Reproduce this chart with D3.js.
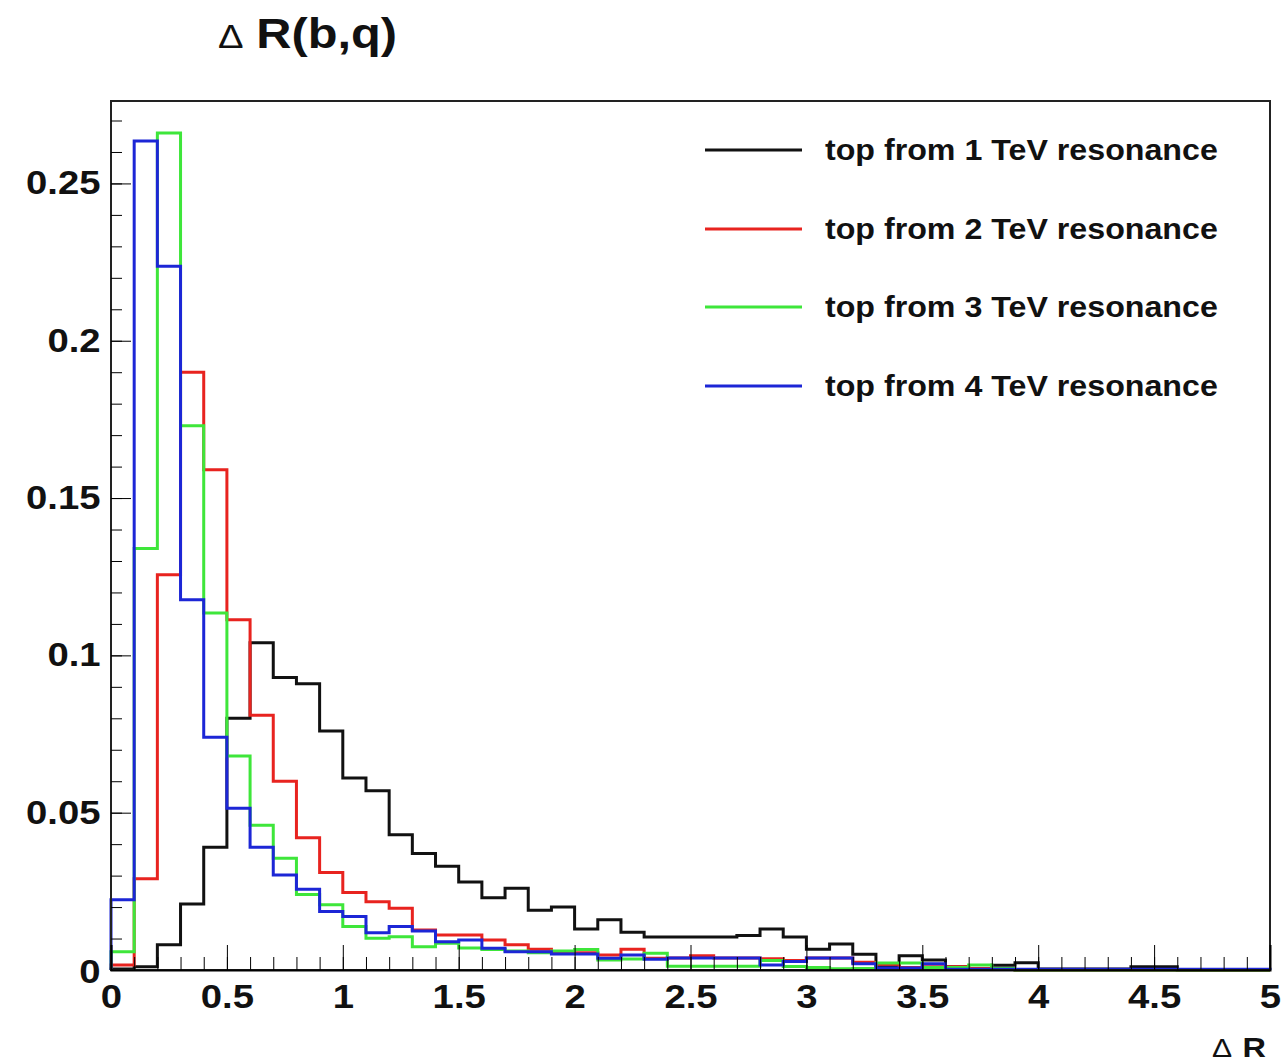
<!DOCTYPE html>
<html>
<head>
<meta charset="utf-8">
<script src="https://cdn.jsdelivr.net/npm/d3@7"></script>
<style>
  body { margin: 0; background: #fff; }
  svg { display: block; }
  text { font-family: "Liberation Sans", Arial, Helvetica, sans-serif; }
</style>
</head>
<body>
<div id="chart"></div>
<script>
// histogram binning: 50 bins of 0.1 in Delta R
var binLow = 0, binHigh = 5, nBins = 50;

var series = ["top from 1 TeV resonance", "top from 2 TeV resonance",
              "top from 3 TeV resonance", "top from 4 TeV resonance"];

var h1TeV = [0.0003, 0.001, 0.008, 0.021, 0.039, 0.080, 0.104, 0.093, 0.091, 0.076,
             0.061, 0.057, 0.043, 0.037, 0.033, 0.028, 0.023, 0.026, 0.019, 0.020,
             0.013, 0.016, 0.012, 0.0105, 0.0105, 0.0105, 0.0105, 0.011, 0.013, 0.0105,
             0.0066, 0.0083, 0.0050, 0.001, 0.0045, 0.0032, 0.001, 0.0005, 0.0015, 0.0023,
             0.0003, 0.0003, 0.0003, 0.0003, 0.001, 0.001, 0, 0, 0, 0];

var h2TeV = [0.0016, 0.029, 0.1256, 0.190, 0.159, 0.1113, 0.081, 0.060, 0.042, 0.031,
             0.0246, 0.0217, 0.0196, 0.0127, 0.0111, 0.0111, 0.0095, 0.008, 0.0066, 0.0055,
             0.0055, 0.0048, 0.0066, 0.0037, 0.0038, 0.0045, 0.0038, 0.0038, 0.0036, 0.003,
             0.0038, 0.0038, 0.0025, 0.0018, 0.0008, 0.001, 0.001, 0.0005, 0.0003, 0,
             0, 0, 0, 0, 0, 0, 0, 0, 0, 0];

var h3TeV = [0.0058, 0.134, 0.266, 0.173, 0.1135, 0.068, 0.046, 0.0355, 0.024, 0.0207,
             0.0138, 0.0101, 0.0106, 0.0074, 0.0085, 0.007, 0.0065, 0.006, 0.0055, 0.006,
             0.0065, 0.0032, 0.0035, 0.0053, 0.0012, 0.0012, 0.0012, 0.0012, 0.003, 0.0011,
             0.0008, 0.0004, 0.0005, 0.0022, 0.0022, 0.0008, 0.0008, 0.0016, 0.0005, 0,
             0, 0, 0, 0, 0, 0, 0, 0, 0, 0];

var h4TeV = [0.0223, 0.2635, 0.2237, 0.1177, 0.074, 0.0514, 0.039, 0.0302, 0.0257, 0.0186,
             0.017, 0.0118, 0.0138, 0.0124, 0.009, 0.0095, 0.0069, 0.0058, 0.0058, 0.0051,
             0.0051, 0.0037, 0.0048, 0.0034, 0.0038, 0.0038, 0.0038, 0.0038, 0.0016, 0.0027,
             0.0038, 0.0038, 0.002, 0.0006, 0.0006, 0.002, 0.0002, 0.0002, 0.0002, 0.0002,
             0.0002, 0.0002, 0.0002, 0.0002, 0.0002, 0.0002, 0.0002, 0.0002, 0.0002, 0.0002];

var colors = ["#111111", "#e8231f", "#3ee63a", "#1c26d6"];
var hists = [h1TeV, h2TeV, h3TeV, h4TeV];

var xMajor = [0, 0.5, 1, 1.5, 2, 2.5, 3, 3.5, 4, 4.5, 5];
var yMajor = [0, 0.05, 0.1, 0.15, 0.2, 0.25];

var width = 1283, height = 1062;
var margin = {left: 111, top: 101, right: 13, bottom: 92};
var sx = 1.16; // text in the picture is stretched horizontally
var font = "Liberation Sans, Arial, Helvetica, sans-serif";

var svg = d3.select("#chart").append("svg")
  .attr("width", width)
  .attr("height", height);

var x = d3.scaleLinear().domain([binLow, binHigh]).range([margin.left, width - margin.right]);
var y = d3.scaleLinear().domain([0, 0.2762]).range([height - margin.bottom, margin.top]);

var binWidth = (binHigh - binLow) / nBins;

// step outline like ROOT "HIST"
function stepPoints(vals){
  var pts = [[binLow, 0]];
  vals.forEach(function(v, i){
    pts.push([binLow + i * binWidth, v]);
    pts.push([binLow + (i + 1) * binWidth, v]);
  });
  pts.push([binHigh, 0]);
  return pts;
}

var line = d3.line()
  .x(function(d){ return x(d[0]); })
  .y(function(d){ return y(d[1]); });

var plot = svg.append("g");
plot.selectAll("path.hist")
  .data(hists)
  .enter()
  .append("path")
    .attr("class", "hist")
    .attr("d", function(d){ return line(stepPoints(d)); })
    .attr("fill", "none")
    .attr("stroke", function(d, i){ return colors[i]; })
    .attr("stroke-width", 3)
    .attr("stroke-linejoin", "miter");

// frame
svg.append("rect")
  .attr("x", x(binLow))
  .attr("y", margin.top)
  .attr("width", x(binHigh) - x(binLow))
  .attr("height", y(0) - margin.top)
  .attr("fill", "none")
  .attr("stroke", "#222")
  .attr("stroke-width", 2);

// x ticks (inward)
var xMinor = d3.range(0, 51).map(function(i){ return i / 10; });
svg.append("g")
  .attr("transform", "translate(0," + y(0) + ")")
  .call(d3.axisTop(x).tickValues(xMinor).tickSize(13).tickFormat(""))
  .call(function(g){ g.select(".domain").remove(); });
svg.append("g")
  .attr("transform", "translate(0," + y(0) + ")")
  .call(d3.axisTop(x).tickValues(xMajor).tickSize(25).tickFormat(""))
  .call(function(g){ g.select(".domain").attr("stroke-width", 2); });

var xLab = svg.append("g")
  .attr("transform", "translate(0," + y(0) + ")")
  .call(d3.axisBottom(x).tickValues(xMajor).tickSize(0).tickPadding(15)
    .tickFormat(function(d){ return d3.format("")(d); }));
xLab.attr("font-family", font);
xLab.select(".domain").remove();
xLab.selectAll("text")
  .attr("font-size", 33)
  .attr("font-weight", "bold")
  .attr("fill", "#111")
  .attr("transform", "scale(" + sx + ",1)");

// y ticks (inward)
var yMinor = d3.range(0, 28).map(function(i){ return i / 100; });
svg.append("g")
  .attr("transform", "translate(" + x(0) + ",0)")
  .call(d3.axisRight(y).tickValues(yMinor).tickSize(11).tickFormat(""))
  .call(function(g){ g.select(".domain").remove(); });
svg.append("g")
  .attr("transform", "translate(" + x(0) + ",0)")
  .call(d3.axisRight(y).tickValues(yMajor).tickSize(20).tickFormat(""))
  .call(function(g){ g.select(".domain").remove(); });

var yLab = svg.append("g")
  .attr("transform", "translate(" + x(0) + ",0)")
  .call(d3.axisLeft(y).tickValues(yMajor).tickSize(0).tickPadding(9)
    .tickFormat(function(d){ return d3.format("")(d); }));
yLab.attr("font-family", font);
yLab.select(".domain").remove();
yLab.selectAll("text")
  .attr("font-size", 33)
  .attr("font-weight", "bold")
  .attr("fill", "#111")
  .attr("transform", function(d){ return d === 0 ? "translate(0,2) scale(" + sx + ",1)" : "scale(" + sx + ",1)"; });

// legend
var legY = [150, 229, 307, 386];
var leg = svg.append("g");
series.forEach(function(name, i){
  leg.append("line")
    .attr("x1", 705).attr("x2", 802)
    .attr("y1", legY[i]).attr("y2", legY[i])
    .attr("stroke", colors[i])
    .attr("stroke-width", 3);
  leg.append("text")
    .attr("transform", "translate(825," + legY[i] + ") scale(1.11,1)")
    .attr("dy", "0.36em")
    .attr("font-size", 29)
    .attr("font-weight", "bold")
    .attr("fill", "#111")
    .text(name);
});

// title
var title = svg.append("text")
  .attr("transform", "translate(218,48) scale(" + sx + ",1)")
  .attr("font-size", 42)
  .attr("fill", "#111");
title.append("tspan").attr("font-size", 33).text("Δ");
title.append("tspan").attr("font-weight", "bold").attr("dx", 11).text("R(b,q)");

// x axis title
var xt = svg.append("text")
  .attr("transform", "translate(1266,1057) scale(" + sx + ",1)")
  .attr("text-anchor", "end")
  .attr("font-size", 28)
  .attr("fill", "#111");
xt.append("tspan").attr("font-size", 26).text("Δ");
xt.append("tspan").attr("font-weight", "bold").attr("dx", 9).text("R");
</script>
</body>
</html>
